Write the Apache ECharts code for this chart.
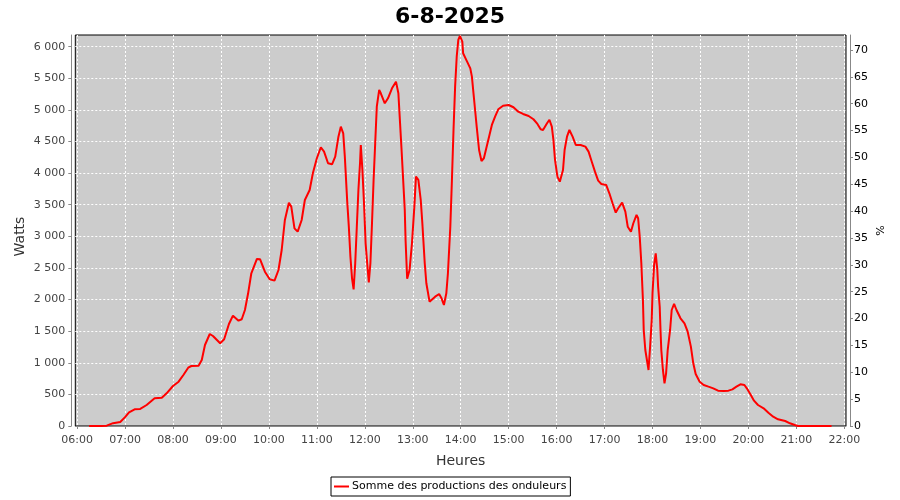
<!DOCTYPE html>
<html>
<head>
<meta charset="utf-8">
<script src="https://cdn.jsdelivr.net/npm/echarts@6/dist/echarts.min.js"></script>
<style>html,body{margin:0;padding:0;background:#fff}#c{width:900px;height:500px}</style>
</head>
<body>
<div id="c"></div>
<script>
const chartTitle = '6-8-2025';
const seriesName = 'Somme des productions des onduleurs';
const times = ['06:15','06:30','06:37','06:45','06:54','07:00','07:05','07:12','07:19','07:27','07:37','07:46','07:52','08:00','08:07','08:13','08:19','08:23','08:32','08:36','08:40','08:46','08:50','08:59','09:04','09:10','09:15','09:22','09:26','09:30','09:34','09:38','09:45','09:49','09:55','10:01','10:07','10:12','10:16','10:20','10:25','10:28','10:32','10:36','10:41','10:45','10:51','10:55','11:00','11:05','11:09','11:14','11:19','11:23','11:27','11:30','11:33','11:35','11:38','11:40','11:42','11:44','11:46','11:48','11:50','11:52','11:54','11:55','11:57','11:59','12:01','12:03','12:05','12:07','12:09','12:11','12:13','12:15','12:18','12:20','12:25','12:29','12:34','12:39','12:42','12:44','12:46','12:48','12:50','12:51','12:53','12:56','12:59','13:02','13:04','13:07','13:10','13:12','13:15','13:17','13:21','13:28','13:33','13:36','13:39','13:42','13:44','13:47','13:49','13:51','13:53','13:55','13:57','13:59','14:02','14:03','14:08','14:12','14:14','14:16','14:18','14:20','14:23','14:26','14:29','14:32','14:36','14:39','14:43','14:47','14:53','15:00','15:06','15:12','15:18','15:25','15:31','15:36','15:40','15:43','15:48','15:51','15:54','15:56','15:58','16:01','16:04','16:08','16:10','16:13','16:16','16:20','16:24','16:30','16:36','16:40','16:44','16:48','16:52','16:56','17:02','17:06','17:10','17:14','17:17','17:22','17:26','17:29','17:33','17:36','17:40','17:42','17:44','17:46','17:48','17:49','17:51','17:53','17:55','17:57','17:59','18:00','18:02','18:04','18:06','18:07','18:09','18:10','18:11','18:13','18:15','18:17','18:19','18:22','18:24','18:27','18:30','18:35','18:40','18:44','18:48','18:51','18:54','18:59','19:04','19:10','19:16','19:22','19:29','19:35','19:40','19:45','19:50','19:55','19:58','20:03','20:07','20:12','20:19','20:25','20:31','20:37','20:46','20:52','20:58','21:02','21:44'];
const watts = [0,0,5,45,63,140,215,264,270,332,438,448,517,633,701,807,922,949,954,1044,1281,1455,1424,1308,1372,1613,1745,1666,1688,1835,2099,2416,2642,2637,2441,2321,2299,2468,2784,3259,3533,3470,3127,3074,3259,3575,3734,3998,4235,4409,4340,4156,4140,4261,4577,4735,4630,4261,3549,3153,2678,2337,2160,2574,3153,3734,4156,4445,4050,3523,2890,2574,2270,2574,3207,3892,4472,5051,5316,5263,5105,5184,5342,5447,5263,4814,4366,3892,3417,2943,2330,2468,2890,3470,3944,3892,3575,3207,2574,2258,1967,2046,2088,2020,1914,2099,2416,3153,3892,4683,5368,5842,6107,6170,6080,5896,5763,5658,5526,5263,4999,4735,4366,4192,4235,4393,4604,4762,4893,5010,5067,5078,5042,4972,4936,4904,4852,4778,4694,4683,4789,4845,4735,4525,4208,3944,3865,4050,4366,4577,4683,4577,4445,4445,4419,4340,4181,4023,3881,3828,3813,3681,3523,3375,3444,3533,3391,3153,3074,3207,3338,3286,2995,2574,1993,1519,1202,1044,886,1255,1677,2099,2547,2732,2468,2204,1887,1519,1202,886,675,834,1202,1519,1835,1930,1835,1704,1625,1492,1255,992,823,701,649,622,596,559,554,559,580,622,660,649,596,490,401,332,280,211,147,106,79,43,16,0,0];
const hourTicks = [6,7,8,9,10,11,12,13,14,15,16,17,18,19,20,21,22];
const wattTicks = [0,500,1000,1500,2000,2500,3000,3500,4000,4500,5000,5500,6000];
const pctTicks = [0,5,10,15,20,25,30,35,40,45,50,55,60,65,70];

const toHours = s => { const p = s.split(':'); return +p[0] + (+p[1]) / 60; };
const data = times.map((t, i) => [toHours(t), watts[i]]);
const fmtHour = v => String(Math.round(v)).padStart(2, '0') + ':00';
const fmtThousands = v => String(v).replace(/\B(?=(\d{3})+(?!\d))/g, ' ');

const chart = echarts.init(document.getElementById('c'), null, {renderer: 'canvas'});
const FONT = 'DejaVu Sans';
chart.setOption({
  animation: false,
  backgroundColor: '#ffffff',
  textStyle: {fontFamily: FONT},
  title: {
    text: chartTitle, left: 'center', top: 1,
    textStyle: {fontFamily: FONT, fontSize: 22, fontWeight: 'bold', color: '#000'}
  },
  legend: {
    left: 331, top: 477,
    data: [seriesName],
    icon: 'rect', itemWidth: 15, itemHeight: 2, itemGap: 4,
    borderColor: '#000', borderWidth: 1, borderRadius: 0,
    padding: [4, 4, 4, 3],
    textStyle: {fontFamily: FONT, fontSize: 11, color: '#000', padding: [0, 0, 0, -2]}
  },
  grid: {
    left: 75.3, right: 900 - 846, top: 35, bottom: 500 - 426,
    show: true, backgroundColor: '#cccccc', borderColor: '#000', borderWidth: 1,
    containLabel: false, outerBoundsMode: 'none'
  },
  xAxis: {
    type: 'value', min: 5.9625, max: 22.035,
    name: 'Heures', nameLocation: 'middle', nameGap: 24, nameMoveOverlap: false,
    nameTextStyle: {fontFamily: FONT, fontSize: 14, color: '#333'},
    offset: 4,
    axisLine: {show: true, lineStyle: {color: '#888', width: 1}},
    axisTick: {show: true, length: 3, lineStyle: {color: '#888'}, customValues: hourTicks},
    axisLabel: {customValues: hourTicks, formatter: fmtHour, fontFamily: FONT, fontSize: 11, color: '#444', margin: 5},
    splitLine: {show: true, lineStyle: {color: '#ffffff', type: [2, 2], width: 1}}
  },
  yAxis: [{
    type: 'value', min: 0, max: 6185, position: 'left',
    name: 'Watts', nameLocation: 'middle', nameGap: 44, nameRotate: 90, nameMoveOverlap: false,
    nameTextStyle: {fontFamily: FONT, fontSize: 14, color: '#333', padding: [0, 0, 0, -12]},
    offset: 4,
    axisLine: {show: true, lineStyle: {color: '#888', width: 1}},
    axisTick: {show: true, length: 3, lineStyle: {color: '#888'}, customValues: wattTicks},
    axisLabel: {customValues: wattTicks, formatter: fmtThousands, fontFamily: FONT, fontSize: 11, color: '#444', margin: 6},
    splitLine: {show: true, lineStyle: {color: '#ffffff', type: [2, 2], width: 1}}
  }, {
    type: 'value', min: 0, max: 72.8, position: 'right',
    name: '%', nameLocation: 'middle', nameGap: 26, nameRotate: 90, nameMoveOverlap: false,
    nameTextStyle: {fontFamily: FONT, fontSize: 11, color: '#000'},
    offset: 4,
    axisLine: {show: true, lineStyle: {color: '#888', width: 1}},
    axisTick: {show: true, length: 3, lineStyle: {color: '#888'}, customValues: pctTicks},
    axisLabel: {customValues: pctTicks, fontFamily: FONT, fontSize: 11, color: '#000', margin: 4},
    splitLine: {show: false}
  }],
  series: [{
    name: seriesName, type: 'line', yAxisIndex: 0, xAxisIndex: 0,
    data: data, showSymbol: false, symbol: 'none',
    lineStyle: {color: '#ff0000', width: 2}, itemStyle: {color: '#ff0000'},
    clip: true
  }]
});
</script>
</body>
</html>
